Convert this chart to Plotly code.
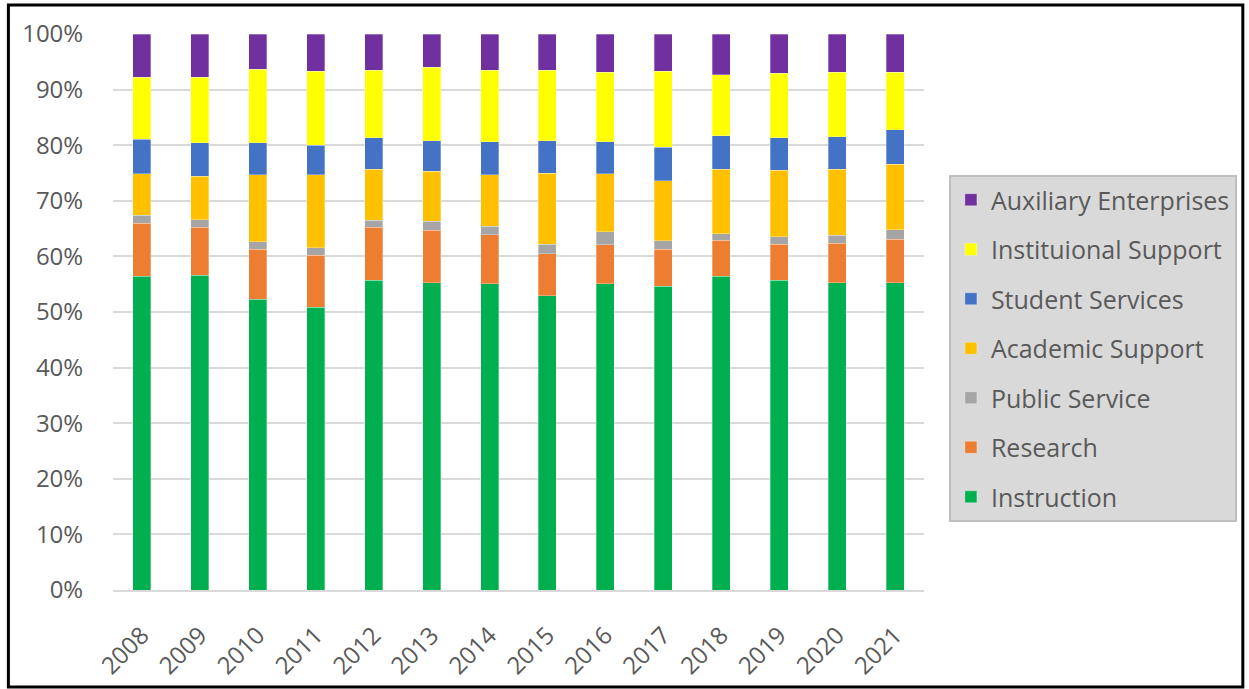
import plotly.graph_objects as go

years = ["2008","2009","2010","2011","2012","2013","2014","2015","2016","2017","2018","2019","2020","2021"]
instruction = [56.4,56.6,52.3,50.9,55.7,55.3,55.1,52.9,55.1,54.6,56.4,55.7,55.3,55.3]
research    = [9.6,8.6,9.0,9.3,9.5,9.4,8.8,7.6,7.0,6.7,6.5,6.5,7.1,7.8]
public_service = [1.4,1.4,1.3,1.4,1.3,1.6,1.5,1.7,2.3,1.5,1.2,1.3,1.4,1.7]
academic_support = [7.5,7.8,12.1,13.1,9.2,9.0,9.3,12.8,10.5,10.8,11.6,12.0,11.9,11.8]
student_services = [6.2,6.0,5.7,5.3,5.6,5.5,5.9,5.8,5.7,6.0,6.0,5.8,5.8,6.2]
institutional_support = [11.1,11.8,13.3,13.3,12.2,13.2,12.9,12.7,12.5,13.7,11.0,11.6,11.6,10.3]
auxiliary = [7.8,7.8,6.3,6.7,6.5,6.0,6.5,6.5,6.9,6.7,7.3,7.1,6.9,6.9]

series = [
    ("Instruction", instruction, "#00B050"),
    ("Research", research, "#ED7D31"),
    ("Public Service", public_service, "#A5A5A5"),
    ("Academic Support", academic_support, "#FFC000"),
    ("Student Services", student_services, "#4472C4"),
    ("Instituional Support", institutional_support, "#FFFF00"),
    ("Auxiliary Enterprises", auxiliary, "#7030A0"),
]

fig = go.Figure()
n = len(series)
for i, (name, vals, col) in enumerate(series):
    fig.add_trace(go.Bar(x=years, y=vals, name=name, legendgroup=name,
                         legendrank=1000 + (n - i),
                         marker=dict(color=col, line=dict(color="rgba(255,255,255,0.6)", width=0.5))))

font_family = "Open Sans, Liberation Sans, sans-serif"
fig.update_layout(
    barmode="stack", barnorm="percent", bargap=0.69,
    width=1249, height=689,
    margin=dict(l=113, r=322, t=34, b=99),
    paper_bgcolor="white", plot_bgcolor="white",
    font=dict(family=font_family, color="#595959", size=24),
    legend=dict(
        x=(952-113)/814, y=(590-175)/556, xanchor="left", yanchor="top",
        bgcolor="#D9D9D9", bordercolor="#BFBFBF", borderwidth=2,
        traceorder="grouped", tracegroupgap=14,
        font=dict(size=25, color="#595959"),
    ),
    yaxis=dict(range=[0, 100], dtick=10, ticksuffix="%", showgrid=True,
               gridcolor="#D9D9D9", gridwidth=1.5, zeroline=False, automargin=False,
               tickfont=dict(size=24, color="#595959"), ticks="outside", ticklen=24,
               tickcolor="rgba(0,0,0,0)"),
    xaxis=dict(tickangle=-45, tickfont=dict(size=24, color="#595959"), showline=True,
               linecolor="#D9D9D9", linewidth=1.5, ticks="outside", ticklen=20,
               tickcolor="rgba(0,0,0,0)", automargin=False),
)
fig.add_shape(type="rect", xref="paper", yref="paper",
              x0=(8-113)/814, x1=(1247-113)/814, y0=(590-687)/556, y1=(590-5)/556,
              line=dict(color="black", width=3), fillcolor="rgba(0,0,0,0)", layer="above")
fig.write_html("out.html")
